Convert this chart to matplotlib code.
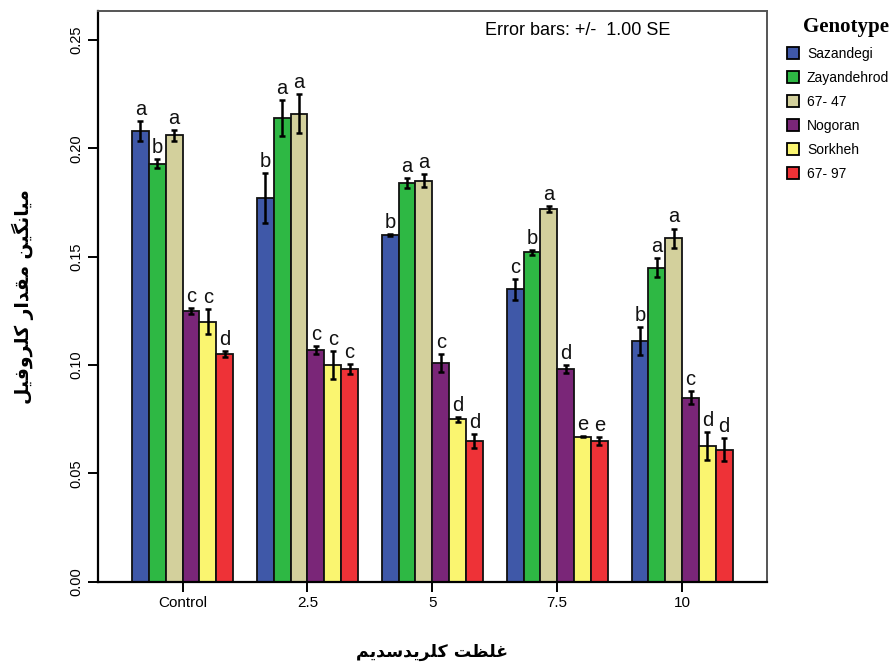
import matplotlib
matplotlib.use('Agg')
import matplotlib.pyplot as plt
from matplotlib.patches import Patch
import numpy as np

# data
concentrations = ['Control', '2.5', '5', '7.5', '10']
genotypes = ['Sazandegi', 'Zayandehrod', '67- 47', 'Nogoran', 'Sorkheh', '67- 97']
colors = ['#3F58A8', '#2EB844', '#D3D09C', '#7A2678', '#FAF570', '#EE3237']

means = {
    'Sazandegi':   [0.208, 0.177, 0.160, 0.135, 0.111],
    'Zayandehrod': [0.193, 0.214, 0.184, 0.152, 0.145],
    '67- 47':      [0.206, 0.216, 0.185, 0.172, 0.1585],
    'Nogoran':     [0.125, 0.107, 0.101, 0.098, 0.085],
    'Sorkheh':     [0.120, 0.100, 0.075, 0.067, 0.0626],
    '67- 97':      [0.105, 0.098, 0.065, 0.065, 0.061],
}
se = {
    'Sazandegi':   [0.0045, 0.0115, 0.0005, 0.0048, 0.0064],
    'Zayandehrod': [0.0020, 0.0085, 0.0025, 0.0012, 0.0042],
    '67- 47':      [0.0026, 0.0090, 0.0030, 0.0012, 0.0045],
    'Nogoran':     [0.0014, 0.0019, 0.0042, 0.0018, 0.0029],
    'Sorkheh':     [0.0058, 0.0066, 0.0012, 0.0004, 0.0063],
    '67- 97':      [0.0014, 0.0023, 0.0031, 0.0017, 0.0054],
}
letters = {
    'Sazandegi':   ['a', 'b', 'b', 'c', 'b'],
    'Zayandehrod': ['b', 'a', 'a', 'b', 'a'],
    '67- 47':      ['a', 'a', 'a', 'a', 'a'],
    'Nogoran':     ['c', 'c', 'c', 'd', 'c'],
    'Sorkheh':     ['c', 'c', 'd', 'e', 'd'],
    '67- 97':      ['d', 'c', 'd', 'e', 'd'],
}

ylabel_fa = 'میانگین مقدار کلروفیل'
xlabel_fa = 'غلظت کلریدسدیم'


# minimal Persian shaping (matplotlib draws glyphs without joining)
FORMS = {
    'م': '\uFEE1\uFEE2\uFEE3\uFEE4', 'ی': '\uFBFC\uFBFD\uFBFE\uFBFF',
    'ا': '\uFE8D\uFE8E\uFE8D\uFE8E', 'ن': '\uFEE5\uFEE6\uFEE7\uFEE8',
    'گ': '\uFB92\uFB93\uFB94\uFB95', 'ق': '\uFED5\uFED6\uFED7\uFED8',
    'د': '\uFEA9\uFEAA\uFEA9\uFEAA', 'ر': '\uFEAD\uFEAE\uFEAD\uFEAE',
    'ک': '\uFB8E\uFB8F\uFB90\uFB91', 'ل': '\uFEDD\uFEDE\uFEDF\uFEE0',
    'و': '\uFEED\uFEEE\uFEED\uFEEE', 'ف': '\uFED1\uFED2\uFED3\uFED4',
    'غ': '\uFECD\uFECE\uFECF\uFED0', 'ظ': '\uFEC5\uFEC6\uFEC7\uFEC8',
    'ت': '\uFE95\uFE96\uFE97\uFE98', 'س': '\uFEB1\uFEB2\uFEB3\uFEB4',
}
RIGHT_ONLY = set('اددذرزژو')


def shape(text):
    out = []
    for i, ch in enumerate(text):
        if ch not in FORMS:
            out.append(ch)
            continue
        prev = text[i - 1] if i > 0 else ''
        nxt = text[i + 1] if i + 1 < len(text) else ''
        jp = prev in FORMS and prev not in RIGHT_ONLY
        jn = nxt in FORMS and ch not in RIGHT_ONLY
        f = FORMS[ch]
        out.append(f[3] if (jp and jn) else f[1] if jp else f[2] if jn else f[0])
    return ''.join(reversed(out))


plt.rcParams['font.family'] = ['Liberation Sans', 'DejaVu Sans']

fig = plt.figure(figsize=(8.93, 6.66), dpi=100)
ax = fig.add_axes([0.1094, 0.1266, 0.7495, 0.8569])

x = np.arange(len(concentrations))
w = 0.135
for i, g in enumerate(genotypes):
    pos = x + (i - 2.5) * w
    ax.bar(pos, means[g], width=w, color=colors[i], edgecolor='#111111',
           linewidth=1.3, zorder=2)
    ax.errorbar(pos, means[g], yerr=se[g], fmt='none', ecolor='black',
                elinewidth=1.8, capsize=2.4, capthick=1.8, zorder=3)
    for xi, m, s, lab in zip(pos, means[g], se[g], letters[g]):
        ax.annotate(lab, (xi, m + s), xytext=(0, 1.5), textcoords='offset points',
                    ha='center', va='bottom', fontsize=14.5, color='#111111')

ax.set_xlim(-0.68, 4.68)
ax.set_ylim(0, 0.2634)
ax.set_xticks(x)
ax.set_xticklabels(concentrations, fontsize=11)
ax.set_yticks([0, 0.05, 0.10, 0.15, 0.20, 0.25])
ax.set_yticklabels(['0.00', '0.05', '0.10', '0.15', '0.20', '0.25'],
                   fontsize=10.5, rotation=90, va='center')
ax.tick_params(axis='x', length=7, width=1.4, pad=3)
ax.tick_params(axis='y', length=7, width=1.4, pad=3)
for side in ['top', 'right']:
    ax.spines[side].set_color('#555555')
    ax.spines[side].set_linewidth(1.4)
for side in ['left', 'bottom']:
    ax.spines[side].set_linewidth(1.6)

ax.text(0.579, 0.966, 'Error bars: +/-  1.00 SE', transform=ax.transAxes,
        ha='left', va='center', fontsize=13)

ax.set_ylabel(shape(ylabel_fa), fontsize=13.5, fontweight='bold',
              family=['DejaVu Sans'], labelpad=26)
ax.set_xlabel(shape(xlabel_fa), fontsize=12.5, fontweight='bold',
              family=['DejaVu Sans'], labelpad=24)

handles = [Patch(facecolor=c, edgecolor='black', linewidth=1.3) for c in colors]
leg = fig.legend(handles, genotypes, loc='upper left', bbox_to_anchor=(0.881, 0.975),
                 frameon=False, fontsize=10, title='Genotype',
                 title_fontproperties={'family': 'Liberation Serif', 'weight': 'bold', 'size': 15},
                 handlelength=0.9, handleheight=0.9, handletextpad=0.55,
                 labelspacing=0.72, borderaxespad=0, borderpad=0)
leg._legend_box.align = 'right'

fig.savefig('out.png', dpi=100)
